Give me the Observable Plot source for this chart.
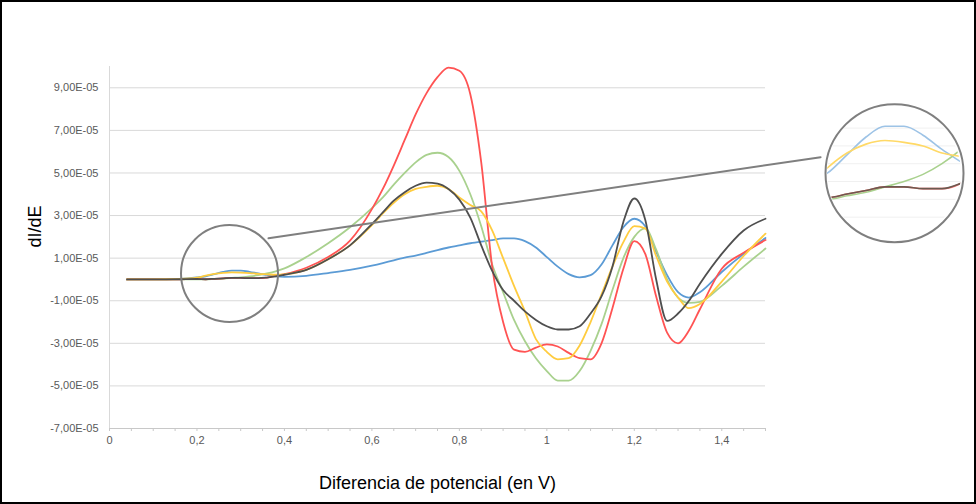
<!DOCTYPE html>
<html><head><meta charset="utf-8">
<script src="https://cdn.jsdelivr.net/npm/d3@7"></script>
<script src="https://cdn.jsdelivr.net/npm/@observablehq/plot@0.6"></script>
<style>
html,body{margin:0;padding:0;background:#fff;}
#wrap{position:relative;width:976px;height:504px;overflow:hidden;background:#fff;}
#main{position:absolute;left:0;top:0;}
#inset{position:absolute;left:818px;top:108px;width:152px;height:130px;}
#border{position:absolute;left:0;top:0;width:976px;height:504px;box-sizing:border-box;border:2px solid #000;pointer-events:none;}
</style></head>
<body>
<div id="wrap"><div id="main"></div><div id="inset"></div><div id="border"></div></div>
<script>
// Potential difference (V)
const potential = [0.04,0.1,0.16,0.2,0.22,0.24,0.26,0.28,0.3,0.32,0.34,0.36,0.38,0.4,0.45,0.5,0.55,0.6,0.625,0.65,0.675,0.7,0.725,0.75,0.775,0.8,0.825,0.85,0.875,0.9,0.925,0.95,0.975,1.0,1.025,1.05,1.075,1.1,1.125,1.15,1.175,1.2,1.225,1.25,1.275,1.3,1.325,1.35,1.4,1.45,1.5];
// dI/dE values, in units of 1E-05
const blue   = [0,0,0.03,0.1,0.15,0.25,0.35,0.41,0.41,0.36,0.28,0.21,0.14,0.12,0.17,0.3,0.45,0.65,0.77,0.9,1.02,1.12,1.25,1.38,1.5,1.6,1.7,1.78,1.85,1.93,1.93,1.8,1.5,1.05,0.6,0.25,0.1,0.2,0.7,1.6,2.45,2.85,2.5,1.3,0.2,-0.6,-0.85,-0.6,0.35,1.2,1.95];
const green  = [0,0,0,0,0,0.02,0.04,0.07,0.1,0.14,0.2,0.28,0.38,0.52,1.05,1.7,2.45,3.35,3.85,4.45,5.0,5.5,5.85,5.95,5.75,5.1,4.0,2.5,0.7,-0.6,-1.9,-2.9,-3.7,-4.3,-4.75,-4.75,-4.3,-3.35,-2.1,-0.5,1.0,2.0,2.4,1.4,0,-0.85,-1.1,-1.05,-0.3,0.6,1.45];
const red    = [0,0,0.01,0.02,0.01,0.03,0.05,0.07,0.07,0.06,0.06,0.09,0.17,0.25,0.55,1.05,1.82,3.3,4.25,5.35,6.55,7.75,8.75,9.5,9.95,9.8,8.7,5.5,0.6,-2.0,-3.3,-3.4,-3.2,-3.05,-3.15,-3.45,-3.7,-3.75,-3.0,-1.35,0.5,1.8,1.2,-0.8,-2.5,-3.0,-2.4,-1.4,0.5,1.25,1.85];
const yellow = [0,0,0.02,0.08,0.18,0.26,0.31,0.33,0.32,0.3,0.26,0.24,0.22,0.24,0.45,0.95,1.6,2.55,3.1,3.6,4.0,4.25,4.35,4.4,4.25,3.85,3.5,3.2,2.3,1.0,-0.3,-1.5,-2.8,-3.4,-3.75,-3.7,-3.1,-2.0,-0.7,0.6,1.75,2.5,2.4,1.1,-0.1,-0.85,-1.35,-1.15,-0.1,1.1,2.15];
const black  = [0,0,0.01,0.02,0.01,0.03,0.05,0.07,0.07,0.06,0.06,0.09,0.14,0.22,0.45,0.95,1.6,2.6,3.15,3.7,4.1,4.4,4.55,4.5,4.25,3.75,2.9,1.6,0.4,-0.5,-1.0,-1.5,-1.9,-2.2,-2.35,-2.35,-2.2,-1.6,-0.8,0.6,2.7,3.8,2.8,0,-1.95,-1.6,-1.0,-0.2,1.2,2.3,2.85];

const seriesOrder = ["blue","green","red","yellow","black"];
const seriesValues = {blue, green, red, yellow, black};
const mainColors  = {blue:"#5b9bd5", green:"#a9d18e", red:"#ff5353", yellow:"#ffcc3f", black:"#4f4f4f"};
const insetColors = {blue:"#9dc3e6", green:"#a9d18e", red:"#ff6b6b", yellow:"#ffd966", black:"#6b5a50"};

const xTickValues = [0,0.2,0.4,0.6,0.8,1,1.2,1.4];
const xMinorTicks = [0,0.05,0.1,0.15,0.2,0.25,0.3,0.35,0.4,0.45,0.5,0.55,0.6,0.65,0.7,0.75,0.8,0.85,0.9,0.95,1,1.05,1.1,1.15,1.2,1.25,1.3,1.35,1.4,1.45,1.5];
const yTickValues = [-7,-5,-3,-1,1,3,5,7,9]; // units of 1E-05

// annotation (zoom circles and connector), in data coordinates; radii in px
const zoomCircle  = [{x:0.2744, y:0.28}];
const zoomRadius  = 48.5;
const insetCircle = [{x:1.795, y:4.99}];
const insetRadius = 69;
const connector   = [{x:0.3636, y:1.93},{x:1.626, y:5.74}];

const rows = s => seriesValues[s].map((v,i) => ({series:s, x:potential[i], y:v}));

const fmtY = d => (d < 0 ? "-" : "") + Math.abs(d).toFixed(2).replace(".", ",") + "E-05";
const fmtX = d => String(+d.toFixed(1)).replace(".", ",");

const font = "'Liberation Sans', Arial, sans-serif";

const main = Plot.plot({
  width: 976, height: 504,
  marginLeft: 109, marginRight: 211, marginTop: 66, marginBottom: 76,
  style: {fontFamily: font, fontSize: "11px", color: "#595959", background: "transparent", overflow: "visible"},
  x: {domain: [0, 1.5], label: null},
  y: {domain: [-7, 10], label: null},
  marks: [
    Plot.gridY(yTickValues, {stroke: "#d9d9d9", strokeOpacity: 1}),
    Plot.ruleX([0], {stroke: "#d9d9d9"}),
    Plot.ruleY([-7], {stroke: "#c8c8c8"}),
    Plot.axisX(xMinorTicks, {tickSize: 3, stroke: "#c8c8c8", tickFormat: () => "", label: null}),
    Plot.axisX(xTickValues, {tickSize: 0, tickPadding: 8, tickFormat: fmtX, label: null, fill: "#595959", fontSize: 11}),
    Plot.axisY(yTickValues, {tickSize: 0, tickPadding: 11, tickFormat: fmtY, label: null, fill: "#595959", fontSize: 11}),
    ...seriesOrder.map(s => Plot.line(rows(s), {x: "x", y: "y", stroke: mainColors[s], strokeWidth: 1.8, curve: "monotone-x"})),
    Plot.line(connector, {x: "x", y: "y", stroke: "#7f7f7f", strokeWidth: 2}),
    Plot.dot(zoomCircle, {x: "x", y: "y", r: zoomRadius, stroke: "#7f7f7f", strokeWidth: 2, fill: "none"}),
    Plot.dot(insetCircle, {x: "x", y: "y", r: insetRadius, stroke: "#7f7f7f", strokeWidth: 2, fill: "white"}),
    Plot.text(["dI/dE"], {text: d => d, frameAnchor: "left", dx: -74, rotate: -90, fontSize: 18, fill: "#000"}),
    Plot.text(["Diferencia de potencial (en V)"], {text: d => d, frameAnchor: "bottom", dy: 60, fontSize: 18, fill: "#000"})
  ]
});
document.getElementById("main").appendChild(main);

const inset = Plot.plot({
  width: 152, height: 130, margin: 0,
  style: {background: "transparent"},
  x: {domain: [0.21, 0.37], axis: null},
  y: {domain: [-0.22, 0.51], axis: null},
  marks: [
    Plot.gridY([-0.1, 0.0, 0.1, 0.2, 0.3, 0.4], {stroke: "#f0f0f0", strokeOpacity: 1}),
    ...seriesOrder.map(s => Plot.line(rows(s), {x: "x", y: "y", stroke: insetColors[s], strokeWidth: 1.6, curve: "monotone-x"}))
  ]
});
inset.style.clipPath = "circle(67px at 76px 65px)";
document.getElementById("inset").appendChild(inset);
</script>
</body></html>
